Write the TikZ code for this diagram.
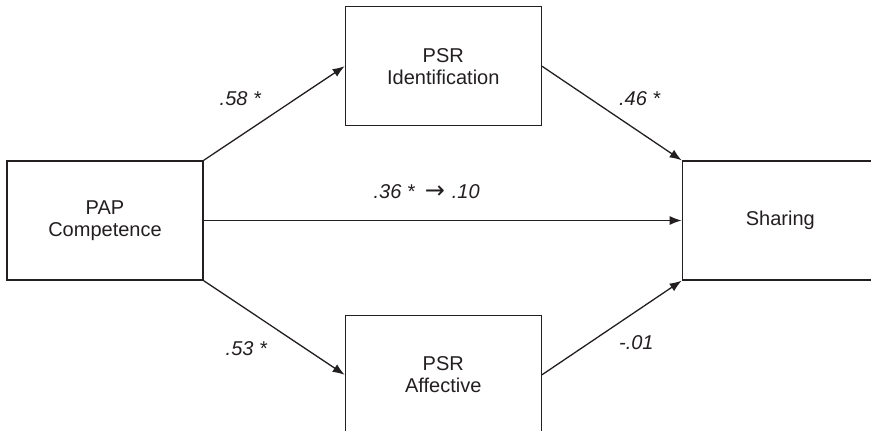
\documentclass[tikz,border=0pt]{standalone}
\usepackage{fontspec}
\setmainfont{Liberation Sans}
\newfontfamily\arrowfont{DejaVu Sans}
\usepackage{xcolor}
\usetikzlibrary{positioning, arrows.meta}

\definecolor{ink}{HTML}{231F20}

\begin{document}
\begin{tikzpicture}[
        font=\fontsize{10}{11}\selectfont,
        box/.style={draw=ink, line width=0.65pt, minimum width=98pt, minimum height=59.5pt, inner sep=0pt, align=center, text=ink},
        coef/.style={font=\fontsize{10}{11}\selectfont\itshape, text=ink}
    ]
        \useasboundingbox (-52.5pt,-104.75pt) rectangle (383pt,110.25pt);

        \node (pap) [box] {PAP\\Competence};

        \node (ident) [box, above right=17pt and 70.5pt of pap] {PSR\\Identification};
        \node (affect) [box, below right=17pt and 70.5pt of pap] {PSR\\Affective};

        \node (share) [box, right=239pt of pap] {Sharing};

        \path[-{Latex[length=6pt,width=4.5pt]}, color=ink, line width=0.65pt]
            (pap.north east) edge node [coef, above left, xshift=-3pt] {.58 *} (ident.west)
            (pap.south east) edge node [coef, below left, yshift=-3pt] {.53 *} (affect.west)
            (pap.east) edge node [coef, above, xshift=-8pt, yshift=7pt] {.36 *\hspace{5pt}{\arrowfont\upshape\fontsize{12}{11}\selectfont →}\hspace{3.5pt}.10} (share.west)

            (ident.east) edge node [coef, above right] {.46 *} (share.north west)
            (affect.east) edge node [coef, below right] {-.01} (share.south west)
        ;
    \end{tikzpicture}
\end{document}
